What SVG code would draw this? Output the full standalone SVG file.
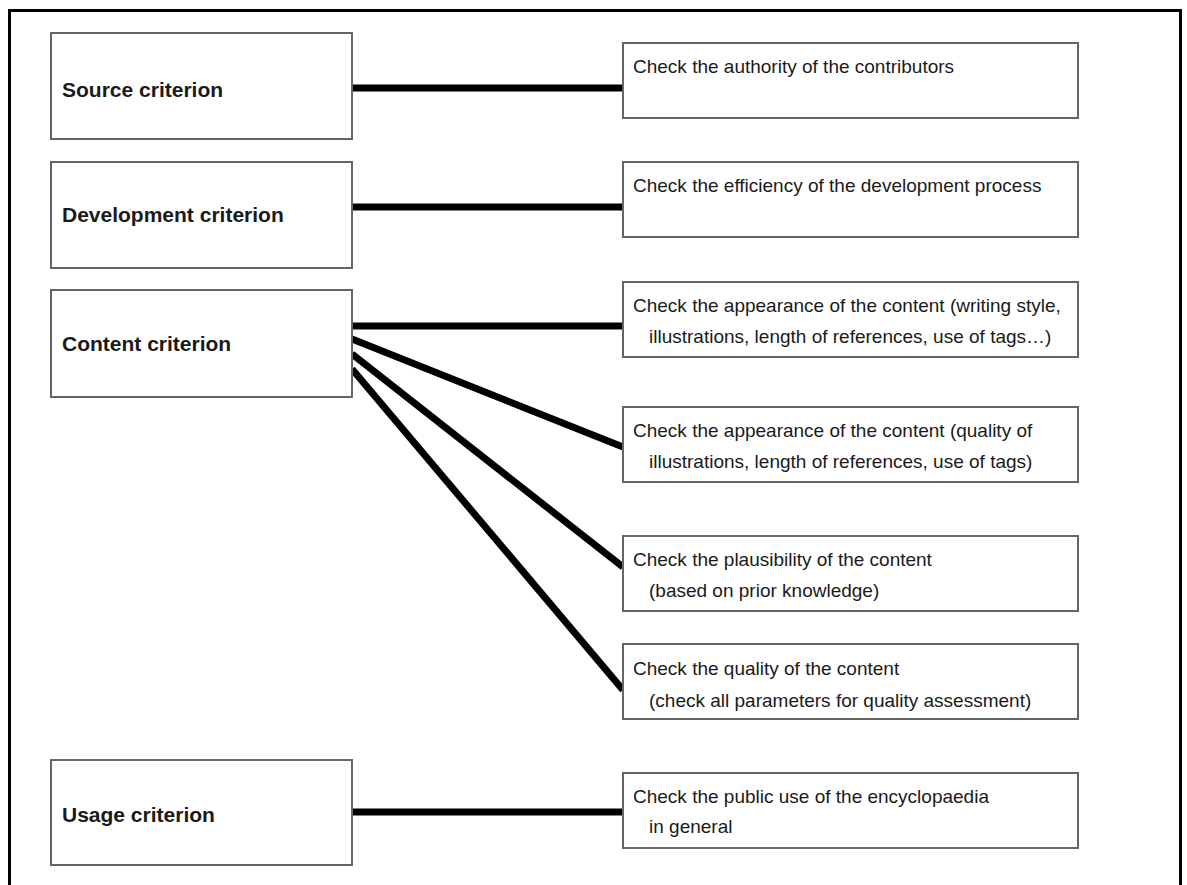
<svg xmlns="http://www.w3.org/2000/svg" width="1187" height="885" viewBox="0 0 1187 885">
<style>
.box{fill:#fff;stroke:#666;stroke-width:2}
.lbl{font-family:"Liberation Sans",Arial,sans-serif;font-weight:bold;font-size:21px;fill:#1a1a1a}
.txt{font-family:"Liberation Sans",Arial,sans-serif;font-size:19px;fill:#1a1a1a}
.conn{stroke:#000;stroke-width:7;fill:none}
</style>
<rect width="1187" height="885" fill="#fff"/>
<path d="M9.5 885 V10.5 H1180.5 V885" fill="none" stroke="#000" stroke-width="3"/>
<g id="connectors">
<line class="conn" x1="352" y1="88" x2="623" y2="88"/>
<line class="conn" x1="352" y1="207" x2="623" y2="207"/>
<line class="conn" x1="352" y1="326" x2="623" y2="326"/>
<line class="conn" x1="352" y1="339" x2="623" y2="447"/>
<line class="conn" x1="352" y1="354" x2="623" y2="567"/>
<line class="conn" x1="352" y1="369" x2="623" y2="690"/>
<line class="conn" x1="352" y1="812" x2="623" y2="812"/>
</g>
<g id="source"><rect class="box" x="51" y="33" width="301" height="106"/><text class="lbl" x="62" y="97">Source criterion</text></g>
<g id="development"><rect class="box" x="51" y="162" width="301" height="106"/><text class="lbl" x="62" y="222">Development criterion</text></g>
<g id="content"><rect class="box" x="51" y="290" width="301" height="107"/><text class="lbl" x="62" y="351">Content criterion</text></g>
<g id="usage"><rect class="box" x="51" y="760" width="301" height="105"/><text class="lbl" x="62" y="822">Usage criterion</text></g>
<g id="c1"><rect class="box" x="623" y="43" width="455" height="75"/><text class="txt" x="633" y="73">Check the authority of the contributors</text></g>
<g id="c2"><rect class="box" x="623" y="162" width="455" height="75"/><text class="txt" x="633" y="192">Check the efficiency of the development process</text></g>
<g id="c3"><rect class="box" x="623" y="282" width="455" height="75"/><text class="txt" x="633" y="312">Check the appearance of the content (writing style,</text><text class="txt" x="649" y="343">illustrations, length of references, use of tags…)</text></g>
<g id="c4"><rect class="box" x="623" y="407" width="455" height="75"/><text class="txt" x="633" y="437">Check the appearance of the content (quality of</text><text class="txt" x="649" y="468">illustrations, length of references, use of tags)</text></g>
<g id="c5"><rect class="box" x="623" y="536" width="455" height="75"/><text class="txt" x="633" y="566">Check the plausibility of the content</text><text class="txt" x="649" y="597">(based on prior knowledge)</text></g>
<g id="c6"><rect class="box" x="623" y="644" width="455" height="75"/><text class="txt" x="633" y="675">Check the quality of the content</text><text class="txt" x="649" y="707">(check all parameters for quality assessment)</text></g>
<g id="c7"><rect class="box" x="623" y="773" width="455" height="75"/><text class="txt" x="633" y="803">Check the public use of the encyclopaedia</text><text class="txt" x="649" y="833">in general</text></g>
</svg>
